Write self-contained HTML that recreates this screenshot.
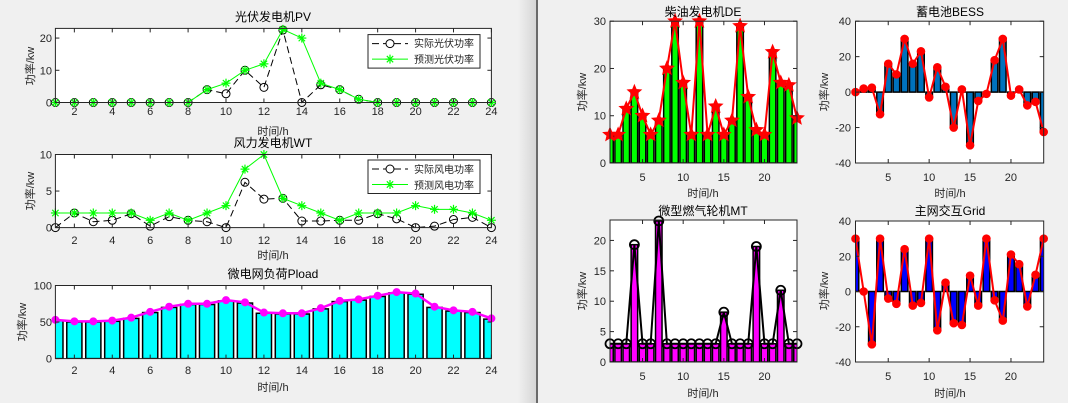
<!DOCTYPE html>
<html><head><meta charset="utf-8"><style>
body{margin:0;width:1068px;height:403px;overflow:hidden;background:#f0f0f0}
svg{display:block}
text{font-family:"Liberation Sans","Noto Sans CJK SC",sans-serif;fill:#262626;font-size:11px}
.t{font-size:12px;fill:#000;text-anchor:middle}
.xl{text-anchor:middle}
.yt{text-anchor:end}
.lg{font-size:10px;fill:#222}
</style></head><body>
<svg id="s" width="1068" height="403" xmlns="http://www.w3.org/2000/svg">
<defs><linearGradient id="gr" x1="0" x2="1"><stop offset="0" stop-color="#f0f0f0"/><stop offset="1" stop-color="#d6d6d6"/></linearGradient></defs>
<rect x="518" y="0" width="18" height="403" fill="url(#gr)"/>
<rect x="536" y="0" width="2" height="403" fill="#6a6a6a"/>
<g id="plots"></g>
<!-- PV -->
<text class="t" x="273" y="21">光伏发电机PV</text>
<g class="xl"><text x="74.4" y="115">2</text><text x="112.3" y="115">4</text><text x="150.2" y="115">6</text><text x="188.1" y="115">8</text><text x="226" y="115">10</text><text x="264" y="115">12</text><text x="301.9" y="115">14</text><text x="339.8" y="115">16</text><text x="377.7" y="115">18</text><text x="415.6" y="115">20</text><text x="453.5" y="115">22</text><text x="491.4" y="115">24</text></g>
<g class="yt"><text x="52" y="106.5">0</text><text x="52" y="74.3">10</text><text x="52" y="42.1">20</text></g>
<text class="xl" x="273" y="135">时间/h</text>
<text class="xl" transform="translate(34,66) rotate(-90)">功率/kw</text>
<!-- WT -->
<text class="t" x="273" y="147">风力发电机WT</text>
<g class="xl"><text x="74.4" y="244">2</text><text x="112.3" y="244">4</text><text x="150.2" y="244">6</text><text x="188.1" y="244">8</text><text x="226" y="244">10</text><text x="264" y="244">12</text><text x="301.9" y="244">14</text><text x="339.8" y="244">16</text><text x="377.7" y="244">18</text><text x="415.6" y="244">20</text><text x="453.5" y="244">22</text><text x="491.4" y="244">24</text></g>
<g class="yt"><text x="52" y="231.6">0</text><text x="52" y="195">5</text><text x="52" y="158.5">10</text></g>
<text class="xl" x="273" y="259">时间/h</text>
<text class="xl" transform="translate(34,191) rotate(-90)">功率/kw</text>
<!-- Load -->
<text class="t" x="273" y="278">微电网负荷Pload</text>
<g class="xl"><text x="74.4" y="374">2</text><text x="112.3" y="374">4</text><text x="150.2" y="374">6</text><text x="188.1" y="374">8</text><text x="226" y="374">10</text><text x="264" y="374">12</text><text x="301.9" y="374">14</text><text x="339.8" y="374">16</text><text x="377.7" y="374">18</text><text x="415.6" y="374">20</text><text x="453.5" y="374">22</text><text x="491.4" y="374">24</text></g>
<g class="yt"><text x="52" y="362.6">0</text><text x="52" y="326">50</text><text x="52" y="289.5">100</text></g>
<text class="xl" x="273" y="391">时间/h</text>
<text class="xl" transform="translate(26,322) rotate(-90)">功率/kw</text>
<!-- DE -->
<text class="t" x="703" y="16">柴油发电机DE</text>
<g class="xl"><text x="642.5" y="181">5</text><text x="683.2" y="181">10</text><text x="723.8" y="181">15</text><text x="764.5" y="181">20</text></g>
<g class="yt"><text x="606" y="167">0</text><text x="606" y="119.7">10</text><text x="606" y="72.4">20</text><text x="606" y="25.2">30</text></g>
<text class="xl" x="703" y="197">时间/h</text>
<text class="xl" transform="translate(586,92) rotate(-90)">功率/kw</text>
<!-- BESS -->
<text class="t" x="950" y="16">蓄电池BESS</text>
<g class="xl"><text x="888.2" y="181">5</text><text x="929.1" y="181">10</text><text x="970" y="181">15</text><text x="1010.9" y="181">20</text></g>
<g class="yt"><text x="851" y="167">-40</text><text x="851" y="131.6">-20</text><text x="851" y="96.1">0</text><text x="851" y="60.7">20</text><text x="851" y="25.2">40</text></g>
<text class="xl" x="950" y="197">时间/h</text>
<text class="xl" transform="translate(828,92) rotate(-90)">功率/kw</text>
<!-- MT -->
<text class="t" x="703" y="215">微型燃气轮机MT</text>
<g class="xl"><text x="642.5" y="380">5</text><text x="683.2" y="380">10</text><text x="723.8" y="380">15</text><text x="764.5" y="380">20</text></g>
<g class="yt"><text x="606" y="366">0</text><text x="606" y="335.6">5</text><text x="606" y="305.2">10</text><text x="606" y="274.8">15</text><text x="606" y="244.4">20</text></g>
<text class="xl" x="703" y="397">时间/h</text>
<text class="xl" transform="translate(586,291) rotate(-90)">功率/kw</text>
<!-- Grid -->
<text class="t" x="950" y="215">主网交互Grid</text>
<g class="xl"><text x="888.2" y="380">5</text><text x="929.1" y="380">10</text><text x="970" y="380">15</text><text x="1010.9" y="380">20</text></g>
<g class="yt"><text x="851" y="366">-40</text><text x="851" y="330.75">-20</text><text x="851" y="295.5">0</text><text x="851" y="260.25">20</text><text x="851" y="225">40</text></g>
<text class="xl" x="950" y="397">时间/h</text>
<text class="xl" transform="translate(828,291) rotate(-90)">功率/kw</text>
<!-- legends -->
<g id="leg"></g>
<text class="lg" x="414" y="47">实际光伏功率</text>
<text class="lg" x="414" y="63">预测光伏功率</text>
<text class="lg" x="414" y="173">实际风电功率</text>
<text class="lg" x="414" y="189">预测风电功率</text>
</svg>
<script>
const NS="http://www.w3.org/2000/svg",P=document.getElementById('plots'),L=document.getElementById('leg');
function el(t,a,p){const e=document.createElementNS(NS,t);for(const k in a)e.setAttribute(k,a[k]);(p||P).appendChild(e);return e;}
function ax(x0,x1,y0,y1,xmin,xmax,ymin,ymax){return{X:h=>x0+(h-xmin)/(xmax-xmin)*(x1-x0),Y:v=>y1-(v-ymin)/(ymax-ymin)*(y1-y0),x0,x1,y0,y1};}
function box(a,xt,yt,id){el('rect',{x:a.x0,y:a.y0,width:a.x1-a.x0,height:a.y1-a.y0,fill:'#fff'});const g=el('g',{'clip-path':'url(#'+id+')'});const cp=el('clipPath',{id});el('rect',{x:a.x0,y:a.y0,width:a.x1-a.x0,height:a.y1-a.y0},cp);return g;}
function frame(a,xt,yt){el('rect',{x:a.x0,y:a.y0,width:a.x1-a.x0,height:a.y1-a.y0,fill:'none',stroke:'#262626','stroke-width':1});
 xt.forEach(h=>{const x=a.X(h);el('line',{x1:x,x2:x,y1:a.y1,y2:a.y1-4,stroke:'#262626'});el('line',{x1:x,x2:x,y1:a.y0,y2:a.y0+4,stroke:'#262626'});});
 yt.forEach(v=>{const y=a.Y(v);el('line',{x1:a.x0,x2:a.x0+4,y1:y,y2:y,stroke:'#262626'});el('line',{x1:a.x1,x2:a.x1-4,y1:y,y2:y,stroke:'#262626'});});}
function bars(g,a,d,fill,w){d.forEach((v,i)=>{const x=a.X(i+1),bw=(a.X(1+w)-a.X(1));const y0=a.Y(0),y=a.Y(v);el('rect',{x:x-bw/2,y:Math.min(y,y0),width:bw,height:Math.abs(y-y0),fill,stroke:'#000','stroke-width':1.5},g);});}
function line(g,a,d,c,w,dash){el('polyline',{points:d.map((v,i)=>a.X(i+1)+','+a.Y(v)).join(' '),fill:'none',stroke:c,'stroke-width':w,'stroke-dasharray':dash||'none'},g);}
function circ(g,a,d,r,c,fill,w){d.forEach((v,i)=>el('circle',{cx:a.X(i+1),cy:a.Y(v),r,fill,stroke:c,'stroke-width':w},g));}
function star(g,x,y,r,c){for(let k=0;k<4;k++){const t=k*Math.PI/4;el('line',{x1:x-r*Math.cos(t),y1:y-r*Math.sin(t),x2:x+r*Math.cos(t),y2:y+r*Math.sin(t),stroke:c,'stroke-width':1.2},g);}}
function pent(g,x,y,r,c){let p=[];for(let k=0;k<10;k++){const rr=k%2?r*0.45:r,t=-Math.PI/2+k*Math.PI/5;p.push((x+rr*Math.cos(t))+','+(y+rr*Math.sin(t)));}el('polygon',{points:p.join(' '),fill:c,stroke:c},g);}
const L24=[2,4,6,8,10,12,14,16,18,20,22,24],R4=[5,10,15,20];
// PV
let a=ax(55.4,491.4,28.4,102.5,1,24,0,23),g=box(a,0,0,'c1');
const pva=[0,0,0,0,0,0,0,0,4,2.7,10,4.7,22.5,0,5.5,4,1,0,0,0,0,0,0,0],pvf=[0,0,0,0,0,0,0,0,4,6,10,12,22.7,20,6,4,1,0,0,0,0,0,0,0];
line(P,a,pva,'#000',1,'7,4');circ(P,a,pva,4,'#000','none',1);line(P,a,pvf,'#00ff00',1);pvf.forEach((v,i)=>star(P,a.X(i+1),a.Y(v),4.5,'#00ff00'));
frame(a,L24,[0,10,20]);
// WT
a=ax(55.4,491.4,154.5,227.6,1,24,0,10);g=box(a,0,0,'c2');
const wa=[0,2,0.8,1,1.9,0.2,1.5,1,0.8,0,6.2,3.9,4,0.9,0.9,1,1,1.9,1.2,0,0.2,1.1,1.4,0],wf=[2,2,2,2,2,1,2,1,2,3,8,10,4,3,2,1,2,2,2,3,2.5,2.5,2,1];
line(P,a,wa,'#000',1,'7,4');circ(P,a,wa,4,'#000','none',1);line(P,a,wf,'#00ff00',1);wf.forEach((v,i)=>star(P,a.X(i+1),a.Y(v),4.5,'#00ff00'));
frame(a,L24,[0,5,10]);
// legends
[[368,34.6],[368,160]].forEach(([x,y])=>{el('rect',{x,y,width:112,height:33.5,fill:'#fff',stroke:'#262626'},L);
el('line',{x1:x+4,x2:x+40,y1:y+9,y2:y+9,stroke:'#000','stroke-dasharray':'7,4'},L);el('circle',{cx:x+22,cy:y+9,r:4,fill:'#fff',stroke:'#000'},L);
el('line',{x1:x+4,x2:x+40,y1:y+24.5,y2:y+24.5,stroke:'#00ff00'},L);star(L,x+22,y+24.5,4.5,'#00ff00');});
// Load
a=ax(55.4,491.4,285.5,358.6,1,24,0,100);g=box(a,0,0,'c3');
const ld=[53,51,51,52,56,64,71,75,75,80,77,63,62,62,69,79,81,86,91,89,71,66,64,55];
bars(g,a,ld.map(v=>v-1),'#00ffff',0.8);line(P,a,ld,'#ff00ff',2.5);circ(P,a,ld,3.5,'#ff00ff','#ff00ff',1);
frame(a,L24,[0,50,100]);
// DE
a=ax(610,797,21.2,163,1,24,0,30);g=box(a,0,0,'c4');
const de=[6,6,11.5,15,10,6,9,20,30,17,6,30,6,12,6,9,29,14,7,6,23.5,17,16.5,9.5];
bars(g,a,de,'#00ff00',0.8);line(P,a,de,'#ff0000',2);de.forEach((v,i)=>pent(P,a.X(i+1),a.Y(v),7,'#ff0000'));
frame(a,R4,[0,10,20,30]);
// BESS
a=ax(855.5,1043.7,21.2,163,1,24,-40,40);g=box(a,0,0,'c5');
const be=[0,2,2.5,-12.5,16,10,30,16,23,-3,14,3,-20,1.5,-30,-5,-1,18,30,-2,1.5,-7.5,-5.5,-22.5];
bars(g,a,be,'#0072bd',0.8);line(P,a,be,'#ff0000',2);circ(P,a,be,3.8,'#ff0000','#ff0000',1);
frame(a,R4,[-40,-20,0,20,40]);
// MT
a=ax(610,797,220,362,1,24,0,23.36);g=box(a,0,0,'c6');
const mt=[3,3,3,19.3,3,3,23.2,3,3,3,3,3,3,3,8.2,3,3,3,19,3,3,11.8,3,3];
bars(g,a,mt,'#ff00ff',0.8);line(P,a,mt,'#000',2);circ(P,a,mt,4.5,'#000','none',1.8);
frame(a,R4,[0,5,10,15,20]);
// Grid
a=ax(855.5,1043.7,221,362,1,24,-40,40);g=box(a,0,0,'c7');
const gd=[30,0,-30,30,-4,-7,24,-8,-6.5,30,-22,5,-18,-19,9,-8,30,-5,-16.5,21,15.5,-8.5,9.5,30];
bars(g,a,gd,'#0000ff',0.8);line(P,a,gd,'#ff0000',2);circ(P,a,gd,3.8,'#ff0000','#ff0000',1);
frame(a,R4,[-40,-20,0,20,40]);
</script>
</body></html>
